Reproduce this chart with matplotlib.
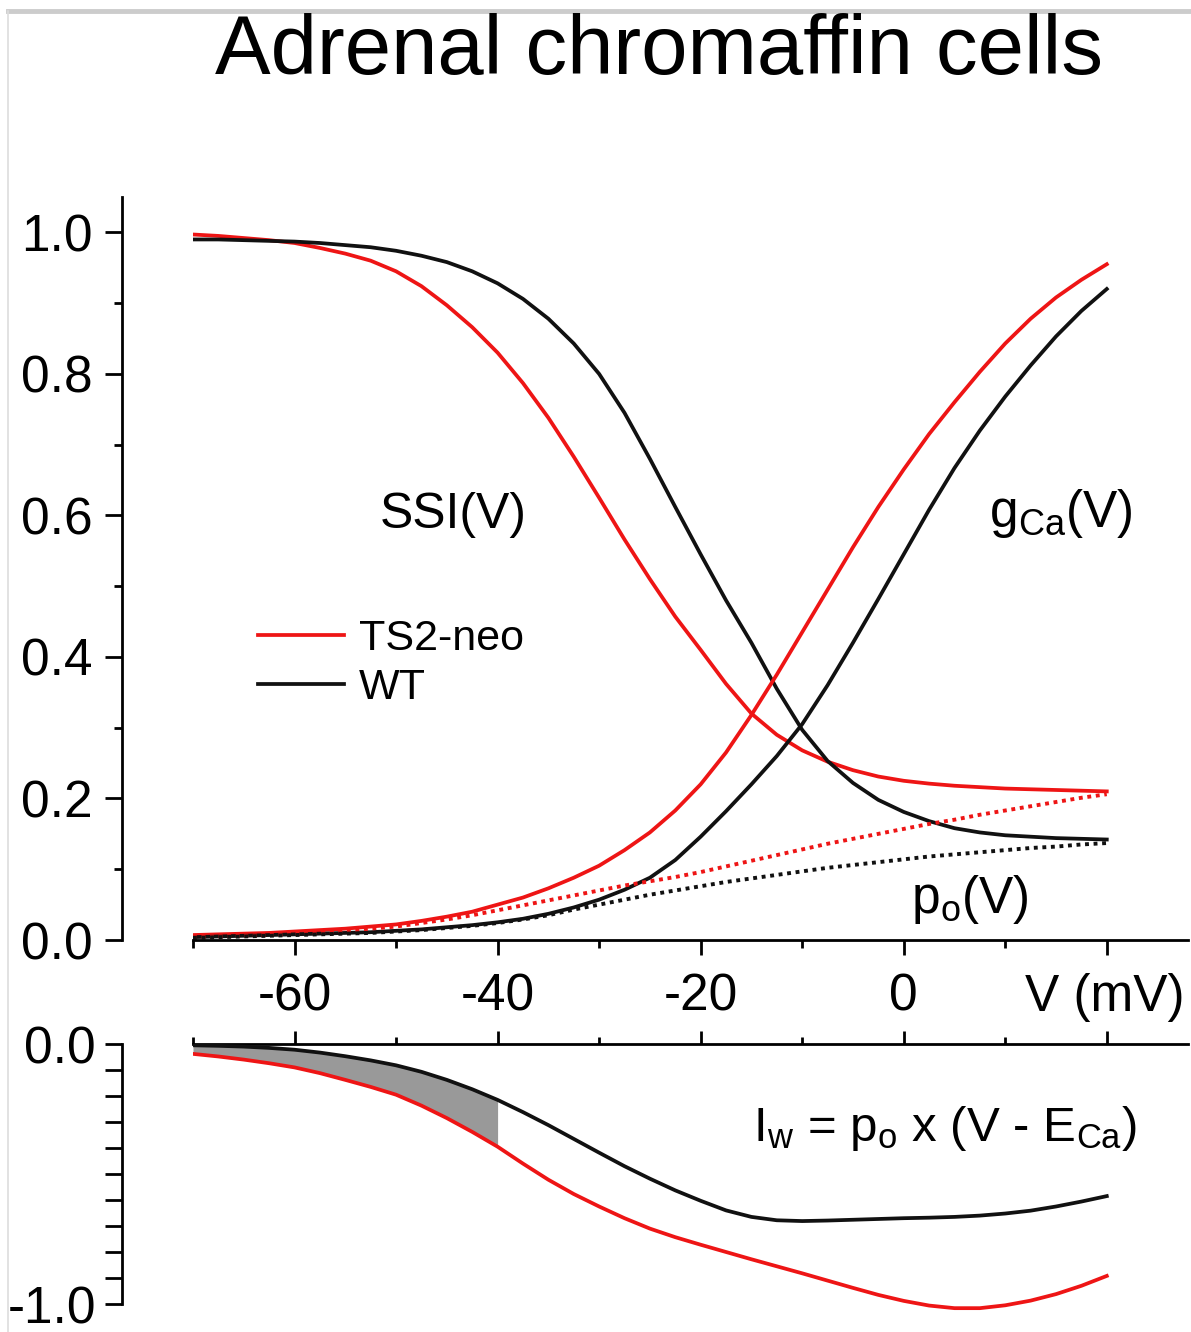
import numpy as np
import matplotlib
matplotlib.use("Agg")
import matplotlib.pyplot as plt
from matplotlib.lines import Line2D

plt.rcParams['font.family'] = ['Liberation Sans', 'DejaVu Sans']
plt.rcParams['mathtext.fontset'] = 'custom'
plt.rcParams['mathtext.rm'] = 'Liberation Sans'
plt.rcParams['mathtext.it'] = 'Liberation Sans'
plt.rcParams['axes.unicode_minus'] = False

# --- data (mV grid, 2.5 mV steps) ---
V = np.arange(-70, 20.1, 2.5)

ssi_ts2 = [0.997, 0.995, 0.992, 0.989, 0.985, 0.978, 0.970, 0.960, 0.945, 0.924,
           0.897, 0.866, 0.830, 0.787, 0.738, 0.683, 0.625, 0.566, 0.510, 0.457,
           0.410, 0.362, 0.320, 0.290, 0.268, 0.252, 0.240, 0.231, 0.225, 0.221,
           0.218, 0.216, 0.214, 0.213, 0.212, 0.211, 0.210]
ssi_wt = [0.990, 0.990, 0.989, 0.988, 0.987, 0.985, 0.982, 0.979, 0.974, 0.967,
          0.958, 0.945, 0.928, 0.906, 0.878, 0.843, 0.800, 0.745, 0.680, 0.612,
          0.545, 0.480, 0.420, 0.355, 0.297, 0.253, 0.222, 0.198, 0.181, 0.168,
          0.158, 0.152, 0.148, 0.146, 0.144, 0.143, 0.142]
gca_ts2 = [0.007, 0.008, 0.009, 0.010, 0.012, 0.014, 0.016, 0.019, 0.022, 0.027,
           0.033, 0.040, 0.050, 0.060, 0.073, 0.088, 0.105, 0.127, 0.152, 0.183,
           0.220, 0.265, 0.318, 0.375, 0.435, 0.495, 0.555, 0.612, 0.665, 0.715,
           0.760, 0.803, 0.843, 0.878, 0.908, 0.933, 0.955]
gca_wt = [0.004, 0.005, 0.006, 0.007, 0.008, 0.009, 0.010, 0.011, 0.013, 0.015,
          0.018, 0.021, 0.025, 0.030, 0.037, 0.046, 0.057, 0.071, 0.088, 0.113,
          0.146, 0.182, 0.220, 0.260, 0.305, 0.360, 0.420, 0.482, 0.545, 0.608,
          0.667, 0.720, 0.768, 0.812, 0.853, 0.889, 0.920]
po_ts2 = [0.004, 0.005, 0.006, 0.007, 0.009, 0.011, 0.013, 0.016, 0.019, 0.024,
          0.029, 0.035, 0.042, 0.049, 0.056, 0.063, 0.070, 0.077, 0.083, 0.089,
          0.096, 0.104, 0.112, 0.120, 0.128, 0.136, 0.143, 0.150, 0.157, 0.164,
          0.170, 0.177, 0.183, 0.189, 0.195, 0.201, 0.206]
po_wt = [0.003, 0.004, 0.005, 0.006, 0.007, 0.008, 0.009, 0.010, 0.012, 0.014,
         0.017, 0.020, 0.024, 0.029, 0.035, 0.043, 0.050, 0.057, 0.064, 0.070,
         0.076, 0.082, 0.087, 0.092, 0.097, 0.102, 0.106, 0.110, 0.114, 0.118,
         0.121, 0.124, 0.127, 0.130, 0.132, 0.135, 0.137]

iw_ts2 = np.array([-0.038, -0.048, -0.060, -0.074, -0.090, -0.112, -0.138, -0.165, -0.195, -0.237,
                   -0.285, -0.338, -0.395, -0.460, -0.522, -0.577, -0.625, -0.670, -0.710, -0.743,
                   -0.772, -0.800, -0.828, -0.855, -0.882, -0.910, -0.938, -0.965, -0.988, -1.006,
                   -1.016, -1.016, -1.005, -0.987, -0.962, -0.930, -0.892])
iw_wt = np.array([-0.005, -0.007, -0.010, -0.015, -0.022, -0.033, -0.047, -0.063, -0.082, -0.107,
                  -0.138, -0.174, -0.215, -0.262, -0.312, -0.365, -0.418, -0.470, -0.518, -0.563,
                  -0.603, -0.640, -0.665, -0.678, -0.681, -0.679, -0.676, -0.673, -0.670, -0.668,
                  -0.665, -0.660, -0.652, -0.641, -0.625, -0.606, -0.585])

RED = '#ee1515'
BLK = '#111111'
TICK_FS = 37
LW = 2.7

fig = plt.figure(figsize=(11.91, 13.32), dpi=100)
W, H = 1191, 1332

# light frame of the original screenshot
fig.add_artist(Line2D([8 / W, 1], [1 - 11 / H, 1 - 11 / H], color='#cccccc', lw=3.5))
fig.add_artist(Line2D([8 / W, 8 / W], [0, 1 - 11 / H], color='#dddddd', lw=1.2))

fig.text(659 / W, 1 - 52 / H, 'Adrenal chromaffin cells', ha='center', va='center', fontsize=60)

# --- top panel ---
ax = fig.add_axes([193 / W, (H - 940) / H, 995 / W, (940 - 197) / H])
ax.plot(V, ssi_ts2, color=RED, lw=LW, label='TS2-neo')
ax.plot(V, ssi_wt, color=BLK, lw=LW, label='WT')
ax.plot(V, gca_ts2, color=RED, lw=LW)
ax.plot(V, gca_wt, color=BLK, lw=LW)
ax.plot(V, po_ts2, color=RED, lw=2.8, ls=(0, (1, 1.2)))
ax.plot(V, po_wt, color=BLK, lw=2.8, ls=(0, (1, 1.2)))

ax.set_xlim(-70, 28)
ax.set_ylim(0, 1.05)
ax.spines['top'].set_visible(False)
ax.spines['right'].set_visible(False)
ax.spines['left'].set_position(('outward', 51))
ax.spines['left'].set_bounds(0, 1.05)
for s in ('left', 'bottom'):
    ax.spines[s].set_linewidth(2.0)

ax.set_xticks([-60, -40, -20, 0, 20])
ax.set_xticklabels(['-60', '-40', '-20', '0', ''])
ax.set_xticks([-70, -50, -30, -10, 10], minor=True)
ax.set_yticks([0, 0.2, 0.4, 0.6, 0.8, 1.0])
ax.set_yticklabels(['0.0', '0.2', '0.4', '0.6', '0.8', '1.0'])
ax.set_yticks([0.1, 0.3, 0.5, 0.7, 0.9], minor=True)
ax.tick_params(axis='x', which='major', length=10.5, width=2.0, pad=13, labelsize=TICK_FS)
ax.tick_params(axis='x', which='minor', length=5.5, width=2.0)
ax.tick_params(axis='y', which='major', length=12, width=2.0, pad=9, labelsize=TICK_FS)
ax.tick_params(axis='y', which='minor', length=5.5, width=2.0)

ax.text(-44.4, 0.60, 'SSI(V)', ha='center', va='center', fontsize=36)
ax.text(8.4, 0.583, r'g$_\mathregular{Ca}$(V)', ha='left', va='baseline', fontsize=37)
ax.text(0.7, 0.038, r'p$_\mathregular{o}$(V)', ha='left', va='baseline', fontsize=37)
fig.text(1025 / W, 1 - 998 / H, 'V (mV)', ha='left', va='center', fontsize=TICK_FS)

ax.legend(loc='upper left', bbox_to_anchor=(258 / W, 1 - 619 / H), bbox_transform=fig.transFigure,
          frameon=False, fontsize=31, handlelength=2.0, handletextpad=0.35,
          labelspacing=0.21, borderpad=0, borderaxespad=0)

# --- bottom panel ---
bx = fig.add_axes([193 / W, (H - 1314.4) / H, 995 / W, 270.4 / H])
bx.fill_between(V, iw_ts2, iw_wt, where=V <= -40, color='#999999', lw=0, zorder=1)
bx.plot(V, iw_wt, color=BLK, lw=LW, zorder=3)
bx.plot(V, iw_ts2, color=RED, lw=LW, zorder=3)

bx.set_xlim(-70, 28)
bx.set_ylim(-1.04, 0.0)
bx.spines['bottom'].set_visible(False)
bx.spines['right'].set_visible(False)
bx.spines['left'].set_position(('outward', 51))
bx.spines['left'].set_bounds(-1.0, 0.0)
for s in ('left', 'top'):
    bx.spines[s].set_linewidth(2.0)

bx.xaxis.tick_top()
bx.set_xticks([-60, -40, -20, 0, 20])
bx.set_xticks([-70, -50, -30, -10, 10], minor=True)
bx.tick_params(axis='x', which='major', length=9.5, width=2.0, labeltop=False, labelbottom=False)
bx.tick_params(axis='x', which='minor', length=5, width=2.0)
yt = [0.0, -0.1, -0.2, -0.3, -0.4, -0.5, -0.6, -0.7, -0.8, -0.9, -1.0]
bx.set_yticks(yt)
bx.set_yticklabels(['0.0'] + [''] * 9 + ['-1.0'])
bx.tick_params(axis='y', length=12, width=2.0, pad=7, labelsize=TICK_FS)

bx.text(-14.8, -0.373, r'I$_\mathregular{w}$ = p$_\mathregular{o}$ x (V - E$_\mathregular{Ca}$)',
        ha='left', va='baseline', fontsize=35.5)

fig.savefig('out.png', dpi=100)
